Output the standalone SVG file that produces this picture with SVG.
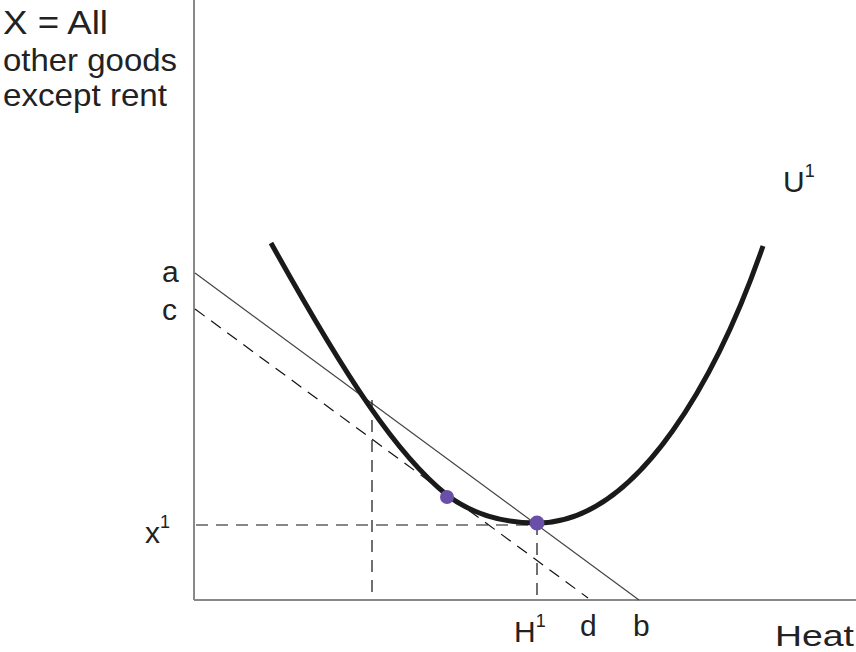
<svg xmlns="http://www.w3.org/2000/svg" width="856" height="652" viewBox="0 0 856 652">
<style>
text{font-family:"Liberation Sans",Arial,sans-serif;fill:#222;}
.lbl{font-size:30px;}
.big{font-size:32px;}
.sup{font-size:18px;}
.axis{stroke:#888;stroke-width:2;fill:none;}
.dash{stroke:#111;stroke-width:1.2;stroke-dasharray:12,8;fill:none;}
.thin{stroke:#444;stroke-width:1.2;fill:none;}
.curve{stroke:#1a1a1a;stroke-width:5;fill:none;stroke-linecap:butt;}
.dot{fill:#6a4fa8;}
</style>
<rect width="856" height="652" fill="#fff"/>
<g id="axes">
<line class="axis" x1="194" y1="0" x2="194" y2="600"/>
<line class="axis" x1="194" y1="600" x2="856" y2="600"/>
</g>
<g id="connectors">
<line class="thin" x1="195" y1="273" x2="639" y2="600"/>
<line class="dash" x1="195" y1="309" x2="588" y2="598"/>
<line class="dash" x1="372" y1="400" x2="372" y2="600"/>
<line class="dash" x1="537" y1="523" x2="537" y2="600"/>
<line class="dash" x1="196" y1="525" x2="537" y2="525"/>
</g>
<g id="curve-U1">
<path class="curve" d="M271,243 C346,378 397,455 447,495 C477,518 510,523 537,523 C640,523 720,370 763,246"/>
</g>
<g id="points">
<circle class="dot" cx="447" cy="497" r="7"/>
<circle class="dot" cx="537" cy="523" r="7.5"/>
</g>
<g id="labels">
<text x="3" y="34" style="font-size:34px" textLength="105" lengthAdjust="spacingAndGlyphs">X = All</text>
<text class="big" x="3" y="71" textLength="174" lengthAdjust="spacingAndGlyphs">other goods</text>
<text class="big" x="3" y="106" textLength="164" lengthAdjust="spacingAndGlyphs">except rent</text>
<text class="lbl" x="162" y="282">a</text>
<text class="lbl" x="162" y="320">c</text>
<text class="lbl" x="145" y="543">x<tspan class="sup" dy="-15">1</tspan></text>
<text class="lbl" x="514" y="642">H<tspan class="sup" dy="-15">1</tspan></text>
<text class="lbl" x="580" y="636">d</text>
<text class="lbl" x="633" y="636">b</text>
<text class="lbl" x="775" y="646" textLength="79" lengthAdjust="spacingAndGlyphs">Heat</text>
<text class="lbl" x="783" y="192">U<tspan class="sup" dy="-15">1</tspan></text>
</g>
</svg>
